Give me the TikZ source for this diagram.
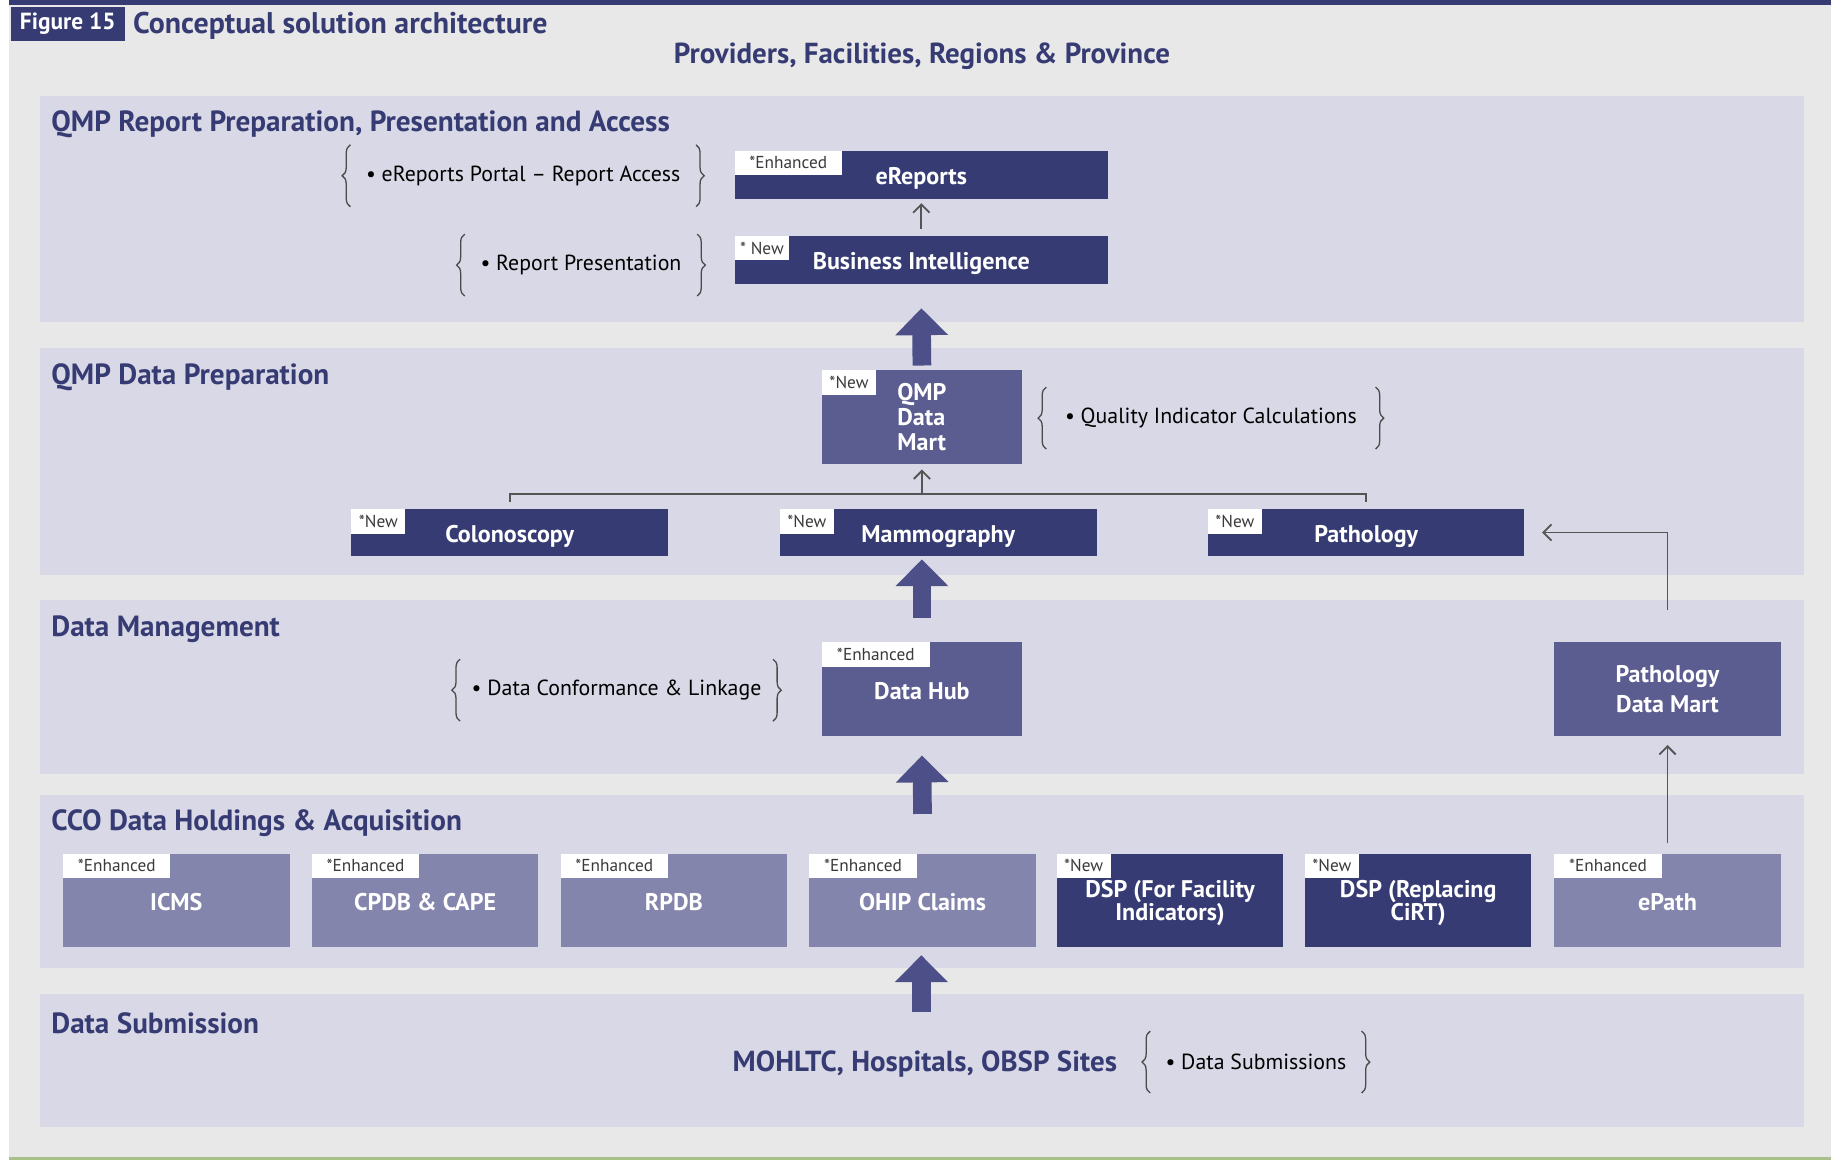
\documentclass[tikz,border=0pt]{standalone}
\usepackage{fontspec}
\setmainfont{PT Sans}
\usetikzlibrary{arrows.meta,calc,decorations.pathreplacing}

\definecolor{navy}{HTML}{363C73}
\definecolor{midc}{HTML}{5B5C8F}
\definecolor{lightc}{HTML}{8485AD}
\definecolor{bandc}{HTML}{D8D8E6}
\definecolor{pagec}{HTML}{E8E8E8}
\definecolor{arrowc}{HTML}{4D5088}
\definecolor{wirec}{HTML}{555555}
\definecolor{tagc}{HTML}{3A3A3A}
\definecolor{rulec}{HTML}{A8BF8A}
\definecolor{bracec}{HTML}{4A4A4A}

\newcommand\bxfont{\bfseries\fontsize{10.3}{11}\selectfont}
\newcommand\bxfontA{\bfseries\fontsize{10.3}{10}\selectfont}
\newcommand\bxfontB{\bfseries\fontsize{10.3}{10.5}\selectfont}
\newcommand\bxfontC{\bfseries\fontsize{10.3}{12.5}\selectfont}
\newcommand\tgfont{\fontsize{7.4}{8}\selectfont}
\newcommand\ntfont{\fontsize{9.35}{11}\selectfont}
\newcommand\hdfont{\bfseries\fontsize{12.5}{14}\selectfont}

\begin{document}
\begin{tikzpicture}[x=0.5pt,y=-0.5pt,
  every node/.style={inner sep=0pt, outer sep=0pt},
  boxbase/.style={rectangle, text=white, font=\bxfont, align=center},
  oneline/.style={text height=11pt, text depth=2.3pt},
  multiline/.style={text depth=-1.6pt},
  darkbox/.style={boxbase, fill=navy},
  midbox/.style={boxbase, fill=midc},
  lightbox/.style={boxbase, fill=lightc},
  wide/.style={minimum width=160pt, minimum height=20.5pt},
  strip/.style={minimum width=135.5pt, minimum height=20pt},
  tall/.style={minimum width=85.5pt, minimum height=40pt},
  cell/.style={minimum width=97pt, minimum height=40pt},
  tag/.style={fill=white, text=tagc, font=\tgfont, minimum height=10.5pt, anchor=north west},
  newtag/.style={tag, minimum width=23pt},
  enhtag/.style={tag, minimum width=46pt},
  note/.style={font=\ntfont, text=black, minimum height=26.5pt},
  curly/.style={draw=bracec, line width=0.55pt, decorate, decoration={brace, amplitude=3.5pt}},
  heading/.style={font=\hdfont, text=navy, anchor=west},
  bigarrow/.style={draw=arrowc, line width=8pt, -{Triangle[length=11.5pt, width=22pt]}},
  wire/.style={draw=wirec, line width=0.8pt},
  wirearrow/.style={wire, -{Straight Barb[length=3.5pt, width=7pt]}},
]
% page and frame lines
\fill[white] (0,0) rectangle (1568,993);
\fill[pagec] (8,4) rectangle (1568,991);
\fill[navy] (8,0) rectangle (1568,4);
\fill[rulec] (8,991) rectangle (1568,993);
\useasboundingbox (0,0) rectangle (1568,993);

% layer bands
\fill[bandc] (34,82) rectangle (1545,276);
\fill[bandc] (34,298) rectangle (1545,492);
\fill[bandc] (34,514) rectangle (1545,663);
\fill[bandc] (34,681) rectangle (1545,829);
\fill[bandc] (34,851) rectangle (1545,965);

% header
\node[fill=navy, text=white, font=\bfseries\fontsize{10}{12}\selectfont,
      minimum width=49pt, minimum height=14.5pt] (fig) at (58,20.5) {Figure 15};
\node[heading, font=\bfseries\fontsize{12.8}{14}\selectfont] (title) at (114,22) {Conceptual solution architecture};
\node[text=navy, font=\bfseries\fontsize{12.4}{14}\selectfont] (scope) at (789.5,48) {Providers, Facilities, Regions \& Province};

% band headings
\node[heading] (h1) at (44,106) {QMP Report Preparation, Presentation and Access};
\node[heading] (h2) at (44,323) {QMP Data Preparation};
\node[heading] (h3) at (44,539) {Data Management};
\node[heading] (h4) at (44,705) {CCO Data Holdings \& Acquisition};
\node[heading] (h5) at (44,876) {Data Submission};

% report layer
\node[darkbox, wide, oneline] (ereports) at (789,149.5) {eReports};
\node[enhtag] (ereports-tag) at (ereports.north west) {*Enhanced};
\node[darkbox, wide, oneline] (bi) at (789,222.5) {Business Intelligence};
\node[newtag, minimum width=23.5pt] (bi-tag) at (bi.north west) {* New};
\node[note, minimum width=148pt] (n1) at (448,150.5) {• eReports Portal – Report Access};
\node[note, minimum width=99.5pt] (n2) at (497.5,227) {• Report Presentation};

% data preparation layer
\node[midbox, tall, multiline, align=left, font=\bxfontB] (qmp) at (789.5,357) {QMP\\Data\\Mart};
\node[newtag] (qmp-tag) at (qmp.north west) {*New};
\node[note, minimum width=141pt] (n3) at (1037,358) {• Quality Indicator Calculations};
\node[darkbox, strip, oneline] (colon) at (436.5,456) {Colonoscopy};
\node[newtag] (colon-tag) at (colon.north west) {*New};
\node[darkbox, strip, oneline] (mammo) at (803.5,456) {Mammography};
\node[newtag] (mammo-tag) at (mammo.north west) {*New};
\node[darkbox, strip, oneline] (patho) at (1170,456) {Pathology};
\node[newtag] (patho-tag) at (patho.north west) {*New};

% data management layer
\node[midbox, tall, oneline] (hub) at (789.5,590) {Data Hub};
\node[enhtag] (hub-tag) at (hub.north west) {*Enhanced};
\node[note, minimum width=134pt] (n4) at (528,591) {• Data Conformance \& Linkage};
\node[midbox, cell, multiline, font=\bxfontC] (pdm) at (1428,590) {Pathology\\Data Mart};

% data holdings layer
\node[lightbox, cell, oneline] (icms) at (151,771) {ICMS};
\node[enhtag] (icms-tag) at (icms.north west) {*Enhanced};
\node[lightbox, cell, oneline] (cpdb) at (364,771) {CPDB \& CAPE};
\node[enhtag] (cpdb-tag) at (cpdb.north west) {*Enhanced};
\node[lightbox, cell, oneline] (rpdb) at (577,771) {RPDB};
\node[enhtag] (rpdb-tag) at (rpdb.north west) {*Enhanced};
\node[lightbox, cell, oneline] (ohip) at (790,771) {OHIP Claims};
\node[enhtag] (ohip-tag) at (ohip.north west) {*Enhanced};
\node[darkbox, cell, multiline, font=\bxfontA] (dspf) at (1002,771) {DSP (For Facility\\Indicators)};
\node[newtag] (dspf-tag) at (dspf.north west) {*New};
\node[darkbox, cell, multiline, font=\bxfontA] (dspr) at (1214.5,771) {DSP (Replacing\\CiRT)};
\node[newtag] (dspr-tag) at (dspr.north west) {*New};
\node[lightbox, cell, oneline] (epath) at (1428,771) {ePath};
\node[enhtag] (epath-tag) at (epath.north west) {*Enhanced};

% data submission layer
\node[text=navy, font=\bfseries\fontsize{12.4}{14}\selectfont] (mohltc) at (792,911) {MOHLTC, Hospitals, OBSP Sites};
\node[note, minimum width=90.5pt] (n5) at (1075.5,909.5) {• Data Submissions};
\coordinate (subtop) at (789,867);

% braces around the notes
\foreach \n in {n1,n2,n3,n4,n5}{
  \draw[curly] (\n.south west) -- (\n.north west);
  \draw[curly] (\n.north east) -- (\n.south east);
}

% thin connectors
\draw[wirearrow, shorten <=3pt, shorten >=2pt] (bi.north) -- (ereports.south);
\coordinate (jl) at ($(colon.north)+(0,-13)$);
\coordinate (jr) at ($(patho.north)+(0,-13)$);
\draw[wire] ($(colon.north)+(0,-6)$) -- (jl) -- (jr) -- ($(patho.north)+(0,-6)$);
\draw[wirearrow, shorten >=2.5pt] (qmp.south |- jl) -- (qmp.south);
\draw[wirearrow, shorten <=14pt, shorten >=7.5pt] (pdm.north) |- (patho.east);
\draw[wirearrow, shorten <=4.5pt, shorten >=4pt] (epath.north) -- (pdm.south);

% block arrows between layers
\draw[bigarrow] ($(qmp.north)+(0,-4)$) -- ($(bi.south)+(0,21)$);
\draw[bigarrow] ($(hub.north)+(0,-21)$) -- ($(hub.north |- mammo.south)+(0,3)$);
\draw[bigarrow] ($(ohip.north)+(0,-34)$) -- ($(hub.south)+(0,17)$);
\draw[bigarrow] (subtop) -- ($(subtop |- ohip.south)+(0,7)$);
\end{tikzpicture}
\end{document}
